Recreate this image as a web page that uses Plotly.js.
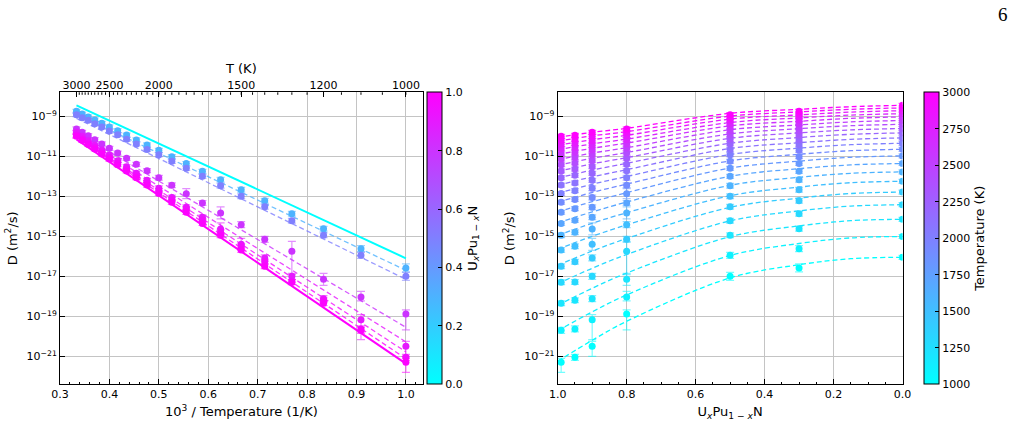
<!DOCTYPE html>
<html><head><meta charset="utf-8">
<script src="https://cdn.plot.ly/plotly-3.0.1.min.js"></script>
<style>html,body{margin:0;padding:0;background:#fff}#chart{width:1016px;height:425px}</style>
</head><body><div id="chart"></div>
<script>
// ---------------- DATA ----------------
const temps = [1000,1100,1200,1300,1400,1500,1600,1700,1800,1900,2000,2100,2200,2300,2400,2500,2600,2700,2800,2900,3000];

// measured log10 D (m^2/s) for each composition, T ascending 1000..3000
const logD_U030 = [-16.58,-15.62,-14.62,-13.87,-13.22,-12.67,-12.17,-11.75,-11.36,-11.02,-10.70,-10.43,-10.18,-9.94,-9.72,-9.53,-9.35,-9.18,-9.03,-8.89,-8.75];
const logD_U050 = [-17.00,-15.95,-14.95,-14.22,-13.52,-13.00,-12.47,-12.00,-11.60,-11.25,-10.92,-10.66,-10.38,-10.15,-9.92,-9.74,-9.53,-9.37,-9.20,-9.07,-8.92];
const logD_U080 = [-18.88,-18.03,-17.15,-15.75,-15.15,-14.42,-13.83,-13.33,-12.87,-12.45,-12.07,-11.72,-11.40,-11.10,-10.84,-10.60,-10.38,-10.17,-9.97,-9.80,-9.63];
const logD_U090 = [-20.50,-19.17,-18.12,-17.00,-16.08,-15.40,-14.63,-14.05,-13.55,-13.06,-12.60,-12.20,-11.85,-11.52,-11.22,-10.94,-10.68,-10.45,-10.22,-10.00,-9.80];
const logD_U095 = [-21.05,-19.63,-18.20,-17.28,-16.27,-15.50,-14.80,-14.20,-13.62,-13.16,-12.72,-12.33,-11.95,-11.64,-11.33,-11.06,-10.80,-10.56,-10.35,-10.14,-9.95];
const logD_U099 = [-21.30,-19.70,-18.35,-17.30,-16.50,-15.68,-14.95,-14.36,-13.80,-13.30,-12.86,-12.44,-12.07,-11.73,-11.42,-11.14,-10.88,-10.63,-10.41,-10.20,-10.00];
const logD_U000 = [-16.05,-15.01,-14.15,-13.42,-12.79,-12.25,-11.78,-11.36,-10.98,-10.65,-10.35,-10.08,-9.83,-9.61,-9.40,-9.21,-9.03,-8.87,-8.72,-8.58,-8.45];

// error bars in decades (up / down)
const errUp_U030 = [0.20,0.15,0.12,0.12,0.12,0.12,0.12,0.10,0.10,0.10,0.10,0.10,0.10,0.10,0.10,0.10,0.10,0.10,0.10,0.10,0.10];
const errDn_U030 = [0.20,0.15,0.12,0.12,0.12,0.12,0.12,0.10,0.10,0.10,0.10,0.10,0.10,0.10,0.10,0.10,0.10,0.10,0.10,0.10,0.10];
const errUp_U050 = [0.20,0.15,0.12,0.12,0.12,0.12,0.12,0.10,0.10,0.10,0.10,0.10,0.10,0.10,0.10,0.10,0.10,0.10,0.10,0.10,0.10];
const errDn_U050 = [0.20,0.15,0.12,0.12,0.12,0.12,0.12,0.10,0.10,0.10,0.10,0.10,0.10,0.10,0.10,0.10,0.10,0.10,0.10,0.10,0.10];
const errUp_U080 = [0.20,0.28,0.30,0.50,0.15,0.15,0.30,0.12,0.25,0.12,0.12,0.10,0.10,0.10,0.10,0.10,0.10,0.10,0.10,0.10,0.10];
const errDn_U080 = [0.80,0.20,0.30,1.17,0.15,0.15,0.30,0.12,0.25,0.12,0.12,0.10,0.10,0.10,0.10,0.10,0.10,0.10,0.10,0.10,0.10];
const errUp_U090 = [0.25,0.25,0.15,0.15,0.15,0.30,0.30,0.12,0.12,0.12,0.12,0.10,0.10,0.10,0.10,0.10,0.10,0.10,0.10,0.10,0.10];
const errDn_U090 = [0.50,1.00,0.15,0.15,0.15,0.30,0.30,0.12,0.12,0.12,0.12,0.10,0.10,0.10,0.10,0.10,0.10,0.10,0.10,0.10,0.10];
const errUp_U095 = [0.15,0.15,0.12,0.12,0.12,0.12,0.12,0.10,0.10,0.10,0.10,0.10,0.10,0.10,0.10,0.10,0.10,0.10,0.10,0.10,0.10];
const errDn_U095 = [0.15,0.15,0.12,0.12,0.12,0.12,0.12,0.10,0.10,0.10,0.10,0.10,0.10,0.10,0.10,0.10,0.10,0.10,0.10,0.10,0.10];
const errUp_U099 = [0.20,0.15,0.12,0.12,0.12,0.12,0.12,0.10,0.10,0.10,0.10,0.10,0.10,0.10,0.10,0.10,0.10,0.10,0.10,0.10,0.10];
const errDn_U099 = [0.50,0.15,0.12,0.12,0.12,0.12,0.12,0.10,0.10,0.10,0.10,0.10,0.10,0.10,0.10,0.10,0.10,0.10,0.10,0.10,0.10];
const errUp_U000 = [0.10,0.10,0.10,0.10,0.10,0.10,0.10,0.10,0.10,0.10,0.10,0.10,0.10,0.10,0.10,0.10,0.10,0.10,0.10,0.10,0.10];
const errDn_U000 = [0.10,0.10,0.10,0.10,0.10,0.10,0.10,0.10,0.10,0.10,0.10,0.10,0.10,0.10,0.10,0.10,0.10,0.10,0.10,0.10,0.10];

// Arrhenius fit lines (left panel): log10 D at T=3000 K and at T=1000 K
const fitComps = [0.0, 0.3, 0.5, 0.8, 0.9, 0.95, 0.99, 1.0];
const fitAt3000 = [-8.45, -8.90, -9.10, -9.80, -9.90, -10.00, -10.05, -10.15];
const fitAt1000 = [-16.10, -16.70, -17.15, -19.55, -20.28, -20.78, -21.12, -21.37];
const fitEndTemps = [3000, 1000];

// composition model curves (right panel): log10 D at these compositions, one row per temperature
const curveComps = [1.0, 0.9, 0.8, 0.5, 0.3, 0.15, 0.0];
const curveLogD = [
 [-21.25,-20.20,-19.25,-17.08,-16.42,-16.12,-16.05],
 [-19.72,-18.78,-17.93,-15.96,-15.36,-15.08,-15.01],
 [-18.45,-17.60,-16.84,-15.02,-14.48,-14.22,-14.15],
 [-17.37,-16.60,-15.91,-14.23,-13.73,-13.49,-13.42],
 [-16.45,-15.74,-15.11,-13.55,-13.09,-12.86,-12.79],
 [-15.65,-15.00,-14.43,-12.97,-12.54,-12.32,-12.25],
 [-14.95,-14.35,-13.82,-12.45,-12.05,-11.85,-11.78],
 [-14.33,-13.78,-13.29,-12.00,-11.62,-11.43,-11.36],
 [-13.78,-13.27,-12.82,-11.59,-11.24,-11.05,-10.98],
 [-13.29,-12.81,-12.39,-11.23,-10.90,-10.72,-10.65],
 [-12.85,-12.40,-12.01,-10.91,-10.59,-10.42,-10.35],
 [-12.45,-12.03,-11.67,-10.61,-10.32,-10.15,-10.08],
 [-12.09,-11.69,-11.35,-10.35,-10.06,-9.90,-9.83],
 [-11.76,-11.38,-11.07,-10.10,-9.83,-9.68,-9.61],
 [-11.45,-11.10,-10.81,-9.88,-9.62,-9.47,-9.40],
 [-11.17,-10.84,-10.57,-9.67,-9.43,-9.28,-9.21],
 [-10.91,-10.60,-10.34,-9.48,-9.25,-9.10,-9.03],
 [-10.67,-10.38,-10.14,-9.31,-9.08,-8.94,-8.87],
 [-10.45,-10.17,-9.95,-9.14,-8.93,-8.79,-8.72],
 [-10.24,-9.98,-9.77,-8.99,-8.78,-8.65,-8.58],
 [-10.05,-9.80,-9.60,-8.85,-8.65,-8.52,-8.45]
];

const yTickExps = [-9,-11,-13,-15,-17,-19,-21];
const topTickTemps = [3000,2500,2000,1500,1200,1000];
const compColorTicks = [0.0,0.2,0.4,0.6,0.8,1.0];
const tempColorTicks = [1000,1250,1500,1750,2000,2250,2500,2750,3000];

// -------------- helpers --------------
function cool(t, a){ const r=Math.round(255*t), g=Math.round(255*(1-t)); return a===undefined?`rgb(${r},${g},255)`:`rgba(${r},${g},255,${a})`; }
const P = v => Math.pow(10, v);
const invT = temps.map(t => 1000/t);
const series = [
  {c:0.3, y:logD_U030, up:errUp_U030, dn:errDn_U030},
  {c:0.5, y:logD_U050, up:errUp_U050, dn:errDn_U050},
  {c:0.8, y:logD_U080, up:errUp_U080, dn:errDn_U080},
  {c:0.9, y:logD_U090, up:errUp_U090, dn:errDn_U090},
  {c:0.95, y:logD_U095, up:errUp_U095, dn:errDn_U095},
  {c:0.99, y:logD_U099, up:errUp_U099, dn:errDn_U099},
];
const endMember0 = {c:0.0, y:logD_U000, up:errUp_U000, dn:errDn_U000};

const FONT = 'DejaVu Sans, sans-serif';
const traces = [];

// ----- left panel: fit lines -----
fitComps.forEach((c,k)=>{
  const solid = (c===0.0 || c===1.0);
  traces.push({type:'scatter', mode:'lines', xaxis:'x', yaxis:'y',
    x: fitEndTemps.map(t=>1000/t), y:[P(fitAt3000[k]), P(fitAt1000[k])],
    line:{color: cool(c, solid?1:0.8), width: solid?2:1.3, dash: solid?'solid':'5px,3px'},
    showlegend:false, hoverinfo:'skip'});
});
// ----- left panel: points -----
series.forEach(s=>{
  const D = s.y.map(P);
  traces.push({type:'scatter', mode:'markers', xaxis:'x', yaxis:'y',
    x: invT, y: D,
    marker:{size:7, color: cool(s.c)},
    error_y:{type:'data', symmetric:false,
      array: D.map((d,i)=>d*(P(s.up[i])-1)), arrayminus: D.map((d,i)=>d*(1-P(-s.dn[i]))),
      color: cool(s.c,0.55), thickness:1.2, width:4},
    showlegend:false, hoverinfo:'skip'});
});

// ----- right panel: model curves -----
temps.forEach((T,i)=>{
  traces.push({type:'scatter', mode:'lines', xaxis:'x2', yaxis:'y2',
    x: curveComps, y: curveLogD[i].map(P),
    line:{color: cool((T-1000)/2000), width:1.3, dash:'5px,3px', shape:'spline'},
    showlegend:false, hoverinfo:'skip'});
});
// ----- right panel: points -----
const rightSeries = series.slice().reverse().concat([endMember0]);
temps.forEach((T,i)=>{
  const D = rightSeries.map(s=>P(s.y[i]));
  traces.push({type:'scatter', mode:'markers', xaxis:'x2', yaxis:'y2',
    x: rightSeries.map(s=>s.c), y: D,
    marker:{size:7, color: cool((T-1000)/2000)},
    error_y:{type:'data', symmetric:false,
      array: D.map((d,j)=>d*(P(rightSeries[j].up[i])-1)), arrayminus: D.map((d,j)=>d*(1-P(-rightSeries[j].dn[i]))),
      color: cool((T-1000)/2000,0.55), thickness:1.2, width:4},
    showlegend:false, hoverinfo:'skip'});
});

// ----- colorbars -----
const cs = [[0,'rgb(0,255,255)'],[1,'rgb(255,0,255)']];
const cbCommon = {thickness:15, thicknessmode:'pixels', len:0.687, lenmode:'fraction', y:0.0958, yanchor:'bottom',
  xanchor:'left', xpad:0, ypad:0, outlinewidth:1, outlinecolor:'#000', ticks:'inside', ticklen:4, tickcolor:'#000',
  tickfont:{family:FONT, size:11, color:'#000'}};
traces.push({type:'scatter', mode:'markers', xaxis:'x', yaxis:'y', x:[0.5,0.5], y:[1e-40,1e-40],
  marker:{color:[0,1], cmin:0, cmax:1, colorscale:cs, showscale:true,
    colorbar:Object.assign({}, cbCommon, {x:426.7/1016, tickvals:compColorTicks, ticktext:compColorTicks.map(v=>v.toFixed(1)),
      title:{text:'U<sub><i>x</i></sub>Pu<sub>1 − <i>x</i></sub>N', side:'right', font:{family:FONT, size:13, color:'#000'}}})},
  showlegend:false, hoverinfo:'skip'});
traces.push({type:'scatter', mode:'markers', xaxis:'x2', yaxis:'y2', x:[0.5,0.5], y:[1e-40,1e-40],
  marker:{color:[1000,3000], cmin:1000, cmax:3000, colorscale:cs, showscale:true,
    colorbar:Object.assign({}, cbCommon, {x:924/1016, tickvals:tempColorTicks,
      title:{text:'Temperature (K)', side:'right', font:{family:FONT, size:13, color:'#000'}}})},
  showlegend:false, hoverinfo:'skip'});
// anchor for top axis
traces.push({type:'scatter', mode:'markers', xaxis:'x3', yaxis:'y', x:[0.5], y:[1e-40], showlegend:false, hoverinfo:'skip'});

// ----- layout -----
const yDom = [0.0958, 0.7828];
const yTickVals = yTickExps.map(P);
const yTickText = yTickExps.map(e=>'10<sup>−'+Math.abs(e)+'</sup>');
const axFont = {family:FONT, size:11, color:'#000'};
const ttlFont = {family:FONT, size:13, color:'#000'};
const common = {showline:true, linecolor:'#000', linewidth:1, mirror:true, ticks:'inside', ticklen:5, tickcolor:'#000',
  tickfont:axFont, gridcolor:'#c4c4c4', gridwidth:1, zeroline:false, showgrid:true};

// minor tick marks of the top temperature axis (every 50 K), drawn as short shapes
const shapes = [];
for (let t=1000; t<=3000; t+=50) {
  shapes.push({type:'line', xref:'x', yref:'paper', x0:1000/t, x1:1000/t, y0:yDom[1], y1:yDom[1]-2.5/425,
    line:{color:'#000', width:1}});
}

const layout = {
  width:1016, height:425, margin:{l:0,r:0,t:0,b:0}, paper_bgcolor:'#fff', plot_bgcolor:'#fff',
  font:{family:FONT, color:'#000'}, showlegend:false, shapes:shapes,
  xaxis: Object.assign({}, common, {domain:[60/1016, 422.7/1016], range:[0.3,1.034], anchor:'y',
    tick0:0.3, dtick:0.1, tickformat:'.1f',
    minor:{dtick:0.02, tick0:0.3, ticks:'inside', ticklen:2.5, tickcolor:'#000', showgrid:false},
    title:{text:'10<sup>3</sup> / Temperature (1/K)', font:ttlFont, standoff:6}}),
  xaxis3: {overlaying:'x', side:'top', anchor:'y', range:[0.3,1.034], showgrid:false, zeroline:false, showline:false,
    tickvals: topTickTemps.map(t=>1000/t), ticktext: topTickTemps.map(String), ticks:'inside', ticklen:5, tickcolor:'#000',
    tickfont:axFont, title:{text:'T (K)', font:ttlFont, standoff:2}},
  yaxis: Object.assign({}, common, {domain:yDom, type:'log', range:[-22.4,-7.8], anchor:'x',
    tickvals:yTickVals, ticktext:yTickText,
    title:{text:'D (m<sup>2</sup>/s)', font:ttlFont, standoff:6}}),
  xaxis2: Object.assign({}, common, {domain:[557.7/1016, 902.5/1016], range:[1.0,0.0], anchor:'y2',
    tick0:0, dtick:0.2, tickformat:'.1f',
    minor:{dtick:0.05, tick0:0, ticks:'inside', ticklen:2.5, tickcolor:'#000', showgrid:false},
    title:{text:'U<sub><i>x</i></sub>Pu<sub>1 − <i>x</i></sub>N', font:ttlFont, standoff:6}}),
  yaxis2: Object.assign({}, common, {domain:yDom, type:'log', range:[-22.4,-7.8], anchor:'x2',
    tickvals:yTickVals, ticktext:yTickText,
    title:{text:'D (m<sup>2</sup>/s)', font:ttlFont, standoff:6}}),
  annotations:[{text:'6', xref:'paper', yref:'paper', x:1003/1016, y:1-14/425, xanchor:'center', yanchor:'middle',
    showarrow:false, font:{family:'Liberation Serif, DejaVu Serif, serif', size:19, color:'#000'}}]
};

Plotly.newPlot('chart', traces, layout, {displayModeBar:false, staticPlot:true});
</script>
</body></html>
